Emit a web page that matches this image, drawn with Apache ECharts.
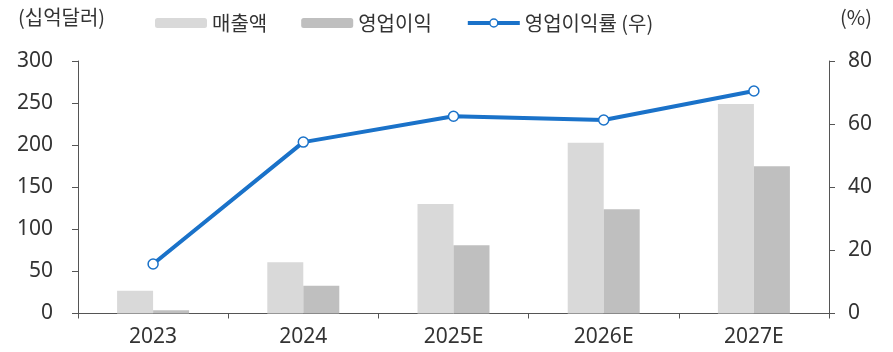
<!DOCTYPE html>
<html>
<head>
<meta charset="utf-8">
<script src="https://cdn.jsdelivr.net/npm/echarts@6/dist/echarts.min.js"></script>
<style>
  html, body { margin: 0; padding: 0; background: #fff; }
  #chart { width: 893px; height: 352px; }
</style>
</head>
<body>
<div id="chart"></div>
<script>
// 연도별 매출액·영업이익 (십억달러)과 영업이익률 (%)
const categories = ['2023', '2024', '2025E', '2026E', '2027E'];
const revenue = [27, 61, 130, 203, 249];
const operatingProfit = [4, 33, 81, 124, 175];
const operatingMargin = [15.7, 54.3, 62.5, 61.3, 70.5];
const leftTicks = { min: 0, max: 300, interval: 50 };
const rightTicks = { min: 0, max: 80, interval: 20 };

const KR_FONT = '"Noto Sans CJK KR", "Noto Sans", sans-serif';
const NUM_FONT = '"Noto Sans", "Noto Sans CJK KR", sans-serif';
const TEXT = '#333333';
const AXIS = '#555555';
const BLUE = '#1a72c9';

const chart = echarts.init(document.getElementById('chart'), null, { renderer: 'canvas' });

chart.setOption({
  animation: false,
  textStyle: { fontFamily: KR_FONT, color: TEXT },
  grid: { left: 78, right: 64, top: 61, bottom: 38.5 },
  graphic: [
    { type: 'text', left: 18, top: 7, style: { text: '(십억달러)', font: '20px ' + KR_FONT, fill: TEXT } },
    { type: 'text', left: 840, top: 7, style: { text: '(%)', font: '20px ' + KR_FONT, fill: TEXT } }
  ],
  legend: {
    left: 150, top: 8,
    itemWidth: 52, itemHeight: 10, itemGap: 34,
    textStyle: { fontFamily: KR_FONT, fontSize: 20, color: TEXT },
    data: [
      '매출액',
      '영업이익',
      { name: '영업이익률 (우)', lineStyle: { width: 4 }, itemStyle: { borderWidth: 1.5 } }
    ]
  },
  xAxis: {
    type: 'category',
    data: categories,
    axisLine: { lineStyle: { color: AXIS, width: 1 } },
    axisTick: { show: true, length: 5, lineStyle: { color: AXIS } },
    axisLabel: { fontSize: 21, color: TEXT, margin: 13, fontFamily: NUM_FONT }
  },
  yAxis: [
    {
      type: 'value', min: leftTicks.min, max: leftTicks.max, interval: leftTicks.interval,
      axisLine: { show: true, lineStyle: { color: AXIS } },
      axisTick: { show: true, length: 6, lineStyle: { color: AXIS } },
      splitLine: { show: false },
      axisLabel: { fontSize: 21, color: TEXT, margin: 25, fontFamily: NUM_FONT }
    },
    {
      type: 'value', min: rightTicks.min, max: rightTicks.max, interval: rightTicks.interval,
      position: 'right',
      axisLine: { show: true, lineStyle: { color: AXIS } },
      axisTick: { show: true, length: 6, lineStyle: { color: AXIS } },
      splitLine: { show: false },
      axisLabel: { fontSize: 21, color: TEXT, margin: 19, fontFamily: NUM_FONT }
    }
  ],
  series: [
    {
      name: '매출액', type: 'bar', yAxisIndex: 0, data: revenue,
      barWidth: 36, barGap: '0%',
      itemStyle: { color: '#d9d9d9' }
    },
    {
      name: '영업이익', type: 'bar', yAxisIndex: 0, data: operatingProfit,
      barWidth: 36, barGap: '0%',
      itemStyle: { color: '#bfbfbf' }
    },
    {
      name: '영업이익률 (우)', type: 'line', yAxisIndex: 1, data: operatingMargin,
      symbol: 'circle', symbolSize: 10,
      lineStyle: { color: BLUE, width: 4 },
      itemStyle: { color: '#ffffff', borderColor: BLUE, borderWidth: 1.5 }
    }
  ]
});
</script>
</body>
</html>
